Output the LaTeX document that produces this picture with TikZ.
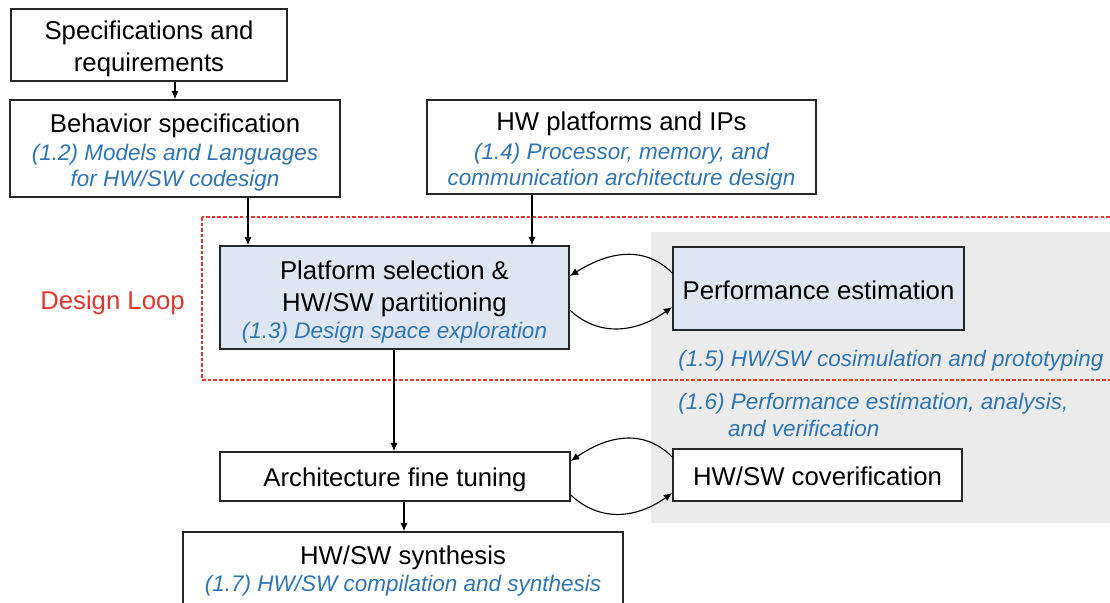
\documentclass[tikz,border=0pt]{standalone}
\usepackage{fontspec}
\setmainfont{Liberation Sans}
\usetikzlibrary{arrows.meta}
\definecolor{subblue}{HTML}{2F75B5}
\definecolor{loopred}{HTML}{E2362C}
\definecolor{boxfill}{HTML}{DEE7F1}
\definecolor{zonegray}{HTML}{EBEBEB}
\newcommand{\pxu}{0.025cm}
\newcommand{\subtxt}[1]{{\color{subblue}\itshape\fontsize{16}{19}\selectfont #1}}
\newcommand{\padtop}[1]{\rule{0pt}{#1}}
\tikzset{
  box/.style={draw=black!85, fill=white, line width=1.1pt, inner sep=0pt, align=center,
    font=\fontsize{18.3}{22.6}\selectfont},
  shadedbox/.style={box, fill=boxfill},
  arr/.style={-{Latex[length=6pt,width=5.2pt]}, line width=0.8pt},
  subnote/.style={text=subblue, inner sep=0pt, font=\itshape\fontsize{16}{19}\selectfont}
}
\begin{document}
\begin{tikzpicture}[x=\pxu, y=-\pxu]
\useasboundingbox (0,0) rectangle (1110,603);
% estimation / verification area and design loop frame
\fill[zonegray] (651,232) rectangle (1120,523);
\draw[loopred, line width=0.8pt, dash pattern=on 2.5pt off 1.5pt] (202,217) rectangle (1120,380);

\node[box, minimum width=276*\pxu, minimum height=72*\pxu] (spec) at (149,45)
  {\padtop{19.1pt}Specifications and\\requirements};
\node[box, minimum width=330*\pxu, minimum height=97*\pxu] (behav) at (175,148.5)
  {\padtop{19.1pt}Behavior specification\\[-2.5pt]\subtxt{(1.2) Models and Languages}\\[-3.8pt]\subtxt{for HW/SW codesign}};
\node[box, minimum width=389*\pxu, minimum height=94*\pxu] (hwplat) at (621.5,147)
  {\padtop{19.1pt}HW platforms and IPs\\[-2.5pt]\subtxt{(1.4) Processor, memory, and}\\[-3.8pt]\subtxt{communication architecture design}};
\node[shadedbox, minimum width=349*\pxu, minimum height=103*\pxu] (platsel) at (394.5,297.5)
  {\padtop{19.8pt}Platform selection \&\\HW/SW partitioning\\[-2.8pt]\subtxt{(1.3) Design space exploration}};
\node[shadedbox, minimum width=291*\pxu, minimum height=83*\pxu] (perfest) at (818.5,288.5)
  {\padtop{16.2pt}Performance estimation};
\node[box, minimum width=350*\pxu, minimum height=49*\pxu] (archft) at (395,476.5)
  {\padtop{18.4pt}Architecture fine tuning};
\node[box, minimum width=289*\pxu, minimum height=52*\pxu] (cover) at (817.5,475)
  {\padtop{14.8pt}HW/SW coverification};
\node[box, minimum width=440*\pxu, minimum height=76*\pxu] (synth) at (403,570)
  {\padtop{14.8pt}HW/SW synthesis\\[-2.8pt]\subtxt{(1.7) HW/SW compilation and synthesis}};

\node[text=loopred, font=\fontsize{18.3}{22}\selectfont] (loop) at (112.5,303) {Design Loop};
\node[subnote, anchor=west] (cosim) at (678,361) {(1.5) HW/SW cosimulation and prototyping};
\node[subnote, anchor=north west, align=left] (perfnote) at (678,393)
  {(1.6) Performance estimation, analysis,\\\hspace*{35.5pt}and verification};

% flow
\draw[arr] (spec.south -| 175,0) -- (behav.north -| 175,0);
\draw[arr] (behav.south -| 248,0) -- (platsel.north -| 248,0);
\draw[arr] (hwplat.south -| 532,0) -- (platsel.north -| 532,0);
\draw[arr] (platsel.south -| 394,0) -- (archft.north -| 394,0);
\draw[arr] (archft.south -| 404,0) -- (synth.north -| 404,0);

% loops
\draw[arr] (perfest.west |- 0,273) .. controls +(-30,-30) and +(35,-22) .. (platsel.east |- 0,276);
\draw[arr] (platsel.east |- 0,310) .. controls +(30,28) and +(-35,25) .. (perfest.west |- 0,307);
\draw[arr] (cover.west |- 0,457) .. controls +(-30,-30) and +(35,-24) .. (archft.east |- 0,461);
\draw[arr] (archft.east |- 0,495) .. controls +(30,28) and +(-35,25) .. (cover.west |- 0,493);
\end{tikzpicture}
\end{document}
